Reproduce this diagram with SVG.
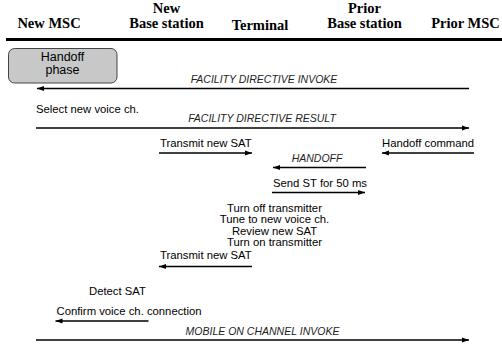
<svg xmlns="http://www.w3.org/2000/svg" width="502" height="346" viewBox="0 0 502 346">
<style>
.hdr{font-family:"Liberation Serif","Times New Roman",serif;font-weight:bold;font-size:14.5px;fill:#000;text-anchor:middle}
.lbl{font-family:"Liberation Sans",Arial,sans-serif;font-size:11.3px;fill:#000}
.msg{font-family:"Liberation Sans",Arial,sans-serif;font-style:italic;font-size:10.5px;fill:#222;text-anchor:middle}
.ln{stroke:#000;stroke-width:1.6;fill:none}
.box{fill:#c8c8c8;stroke:#444;stroke-width:1}
.boxt{font-family:"Liberation Sans",Arial,sans-serif;font-size:12.5px;fill:#000;text-anchor:middle}
</style>
<defs>
<marker id="ah" markerUnits="userSpaceOnUse" markerWidth="8" markerHeight="6" refX="7" refY="3" orient="auto">
<path d="M0,0.5 L7,3 L0,5.5 Z" fill="#000"/>
</marker>
</defs>
<rect width="502" height="346" fill="#fff"/>
<g id="new-msc"><text class="hdr" x="49" y="28">New MSC</text></g>
<g id="new-bs"><text class="hdr" x="166.5" y="13">New</text><text class="hdr" x="166.5" y="28">Base station</text></g>
<g id="terminal"><text class="hdr" x="260" y="29.5">Terminal</text></g>
<g id="prior-bs"><text class="hdr" x="364.5" y="13">Prior</text><text class="hdr" x="364.5" y="28">Base station</text></g>
<g id="prior-msc"><text class="hdr" x="465.5" y="28">Prior MSC</text></g>
<line x1="6" y1="39.5" x2="502" y2="39.5" stroke="#000" stroke-width="3"/>
<g id="handoff-phase">
<rect class="box" x="8.5" y="48.5" width="108.5" height="34.5" rx="6" ry="6"/>
<text class="boxt" x="62.5" y="61">Handoff</text>
<text class="boxt" x="62.5" y="74">phase</text>
</g>
<g id="notes">
<text class="lbl" x="36" y="112.5">Select new voice ch.</text>
<text class="lbl" x="274.5" y="211.5" text-anchor="middle">Turn off transmitter</text>
<text class="lbl" x="274.5" y="223" text-anchor="middle">Tune to new voice ch.</text>
<text class="lbl" x="274.5" y="234.5" text-anchor="middle">Review new SAT</text>
<text class="lbl" x="274.5" y="246" text-anchor="middle">Turn on transmitter</text>
<text class="lbl" x="89" y="294.5">Detect SAT</text>
</g>
<g id="connectors">
<text class="msg" x="264" y="82.5">FACILITY DIRECTIVE INVOKE</text>
<line class="ln" x1="469" y1="88.5" x2="37" y2="88.5" marker-end="url(#ah)"/>
<text class="msg" x="262" y="121.5">FACILITY DIRECTIVE RESULT</text>
<line class="ln" x1="36" y1="128" x2="469" y2="128" marker-end="url(#ah)"/>
<text class="lbl" x="160" y="146.5">Transmit new SAT</text>
<line class="ln" x1="159" y1="153" x2="252" y2="153" marker-end="url(#ah)"/>
<text class="lbl" x="382" y="146.5">Handoff command</text>
<line class="ln" x1="474" y1="153" x2="382" y2="153" marker-end="url(#ah)"/>
<text class="msg" x="317" y="161.5">HANDOFF</text>
<line class="ln" x1="366" y1="167.5" x2="273" y2="167.5" marker-end="url(#ah)"/>
<text class="lbl" x="273" y="186.5">Send ST for 50 ms</text>
<line class="ln" x1="272" y1="192.5" x2="365" y2="192.5" marker-end="url(#ah)"/>
<text class="lbl" x="160" y="258.5">Transmit new SAT</text>
<line class="ln" x1="252" y1="266.5" x2="159" y2="266.5" marker-end="url(#ah)"/>
<text class="lbl" x="56.5" y="314.5">Confirm voice ch. connection</text>
<line class="ln" x1="148.5" y1="321" x2="55.5" y2="321" marker-end="url(#ah)"/>
<text class="msg" x="262.5" y="335">MOBILE ON CHANNEL INVOKE</text>
<line class="ln" x1="36" y1="340" x2="469" y2="340" marker-end="url(#ah)"/>
</g>
</svg>
